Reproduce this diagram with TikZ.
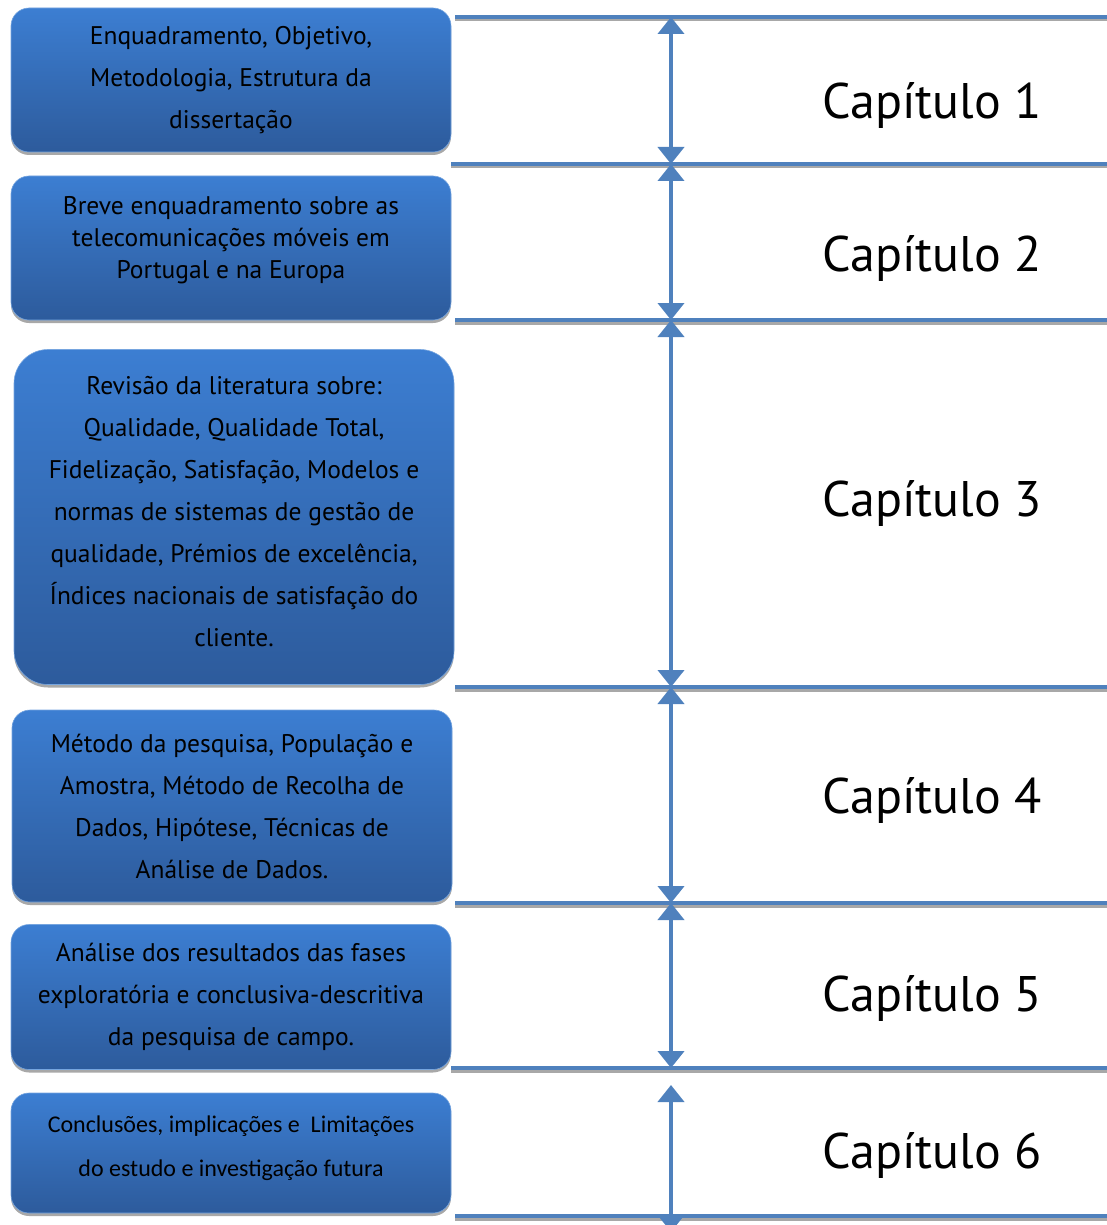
\documentclass[tikz,border=0pt]{standalone}
\usepackage{fontspec}
\setmainfont{PT Sans}
\newfontfamily\calibri{Carlito}
\usetikzlibrary{arrows.meta,shadows}

\definecolor{boxtop}{HTML}{3C7ED2}
\definecolor{boxbot}{HTML}{2D5B9C}
\definecolor{rulecol}{HTML}{4F81BD}
\definecolor{shadecol}{HTML}{A8A8A8}

\tikzset{
  capbox/.style={rounded corners=18pt, top color=boxtop, bottom color=boxbot,
    draw=boxtop!70!white, line width=0.6pt, align=center, minimum width=440pt,
    inner sep=0pt, font=\fontsize{25.5}{42}\selectfont,
    drop shadow={shadow xshift=0pt, shadow yshift=-3pt, fill=shadecol, opacity=1}},
  rule/.style={draw=rulecol, line width=4pt},
  ruleshade/.style={draw=shadecol, line width=3pt},
  span/.style={draw=rulecol, line width=4pt,
    {Triangle[width=26pt,length=17pt]}-{Triangle[width=26pt,length=17pt]}},
  chaplabel/.style={font=\fontsize{50}{60}\selectfont}
}

\begin{document}
\begin{tikzpicture}[x=1pt, y=-1pt]
  \useasboundingbox (0,0) rectangle (1107,1225);

  % caixas da esquerda
  \node[capbox, minimum height=144pt] (box1) at (231,80)
    {Enquadramento, Objetivo,\\Metodologia, Estrutura da\\dissertação};
  \node[capbox, minimum height=144pt, font=\fontsize{25.5}{32}\selectfont] (box2) at (231,248)
    {Breve enquadramento sobre as\\telecomunicações móveis em\\Portugal e na Europa\\[-10pt]};
  \node[capbox, minimum height=335pt, rounded corners=34pt] (box3) at (234,517)
    {Revisão da literatura sobre:\\Qualidade, Qualidade Total,\\Fidelização, Satisfação, Modelos e\\normas de sistemas de gestão de\\qualidade, Prémios de excelência,\\Índices nacionais de satisfação do\\cliente.\\[-30pt]};
  \node[capbox, minimum height=192pt] (box4) at (232,806)
    {Método da pesquisa, População e\\Amostra, Método de Recolha de\\Dados, Hipótese, Técnicas de\\Análise de Dados.};
  \node[capbox, minimum height=145pt] (box5) at (231,997)
    {Análise dos resultados das fases\\exploratória e conclusiva-descritiva\\da pesquisa de campo.};
  \node[capbox, minimum height=120pt, font=\calibri\fontsize{24}{44}\selectfont] (box6) at (231,1153)
    {Conclusões, implicações e\ \ Limitações\\do estudo e investigação futura\\[-30pt]};

  % separadores horizontais
  \foreach \i/\xa/\yy in {0/455/17, 1/451/164, 2/455/320, 3/455/687,
                          4/455/903, 5/451/1068, 6/455/1216} {
    \coordinate (h\i) at (671,\yy);
    \draw[ruleshade] (\xa,\yy+3) -- (1107,\yy+3);
    \draw[rule] (\xa,\yy) -- (1107,\yy);
  }

  % setas entre separadores
  \foreach \a/\b in {0/1, 1/2, 2/3, 3/4, 4/5}
    \draw[span] (h\a) -- (h\b);
  \coordinate (top6) at (671,1085);
  \coordinate (end6) at (671,1232);
  \draw[span] (top6) -- (end6);

  \foreach \n/\yy in {1/106, 2/258, 3/503, 4/800, 5/998, 6/1155}
    \node[chaplabel] (cap\n) at (932,\yy) {Capítulo \n};
\end{tikzpicture}
\end{document}
